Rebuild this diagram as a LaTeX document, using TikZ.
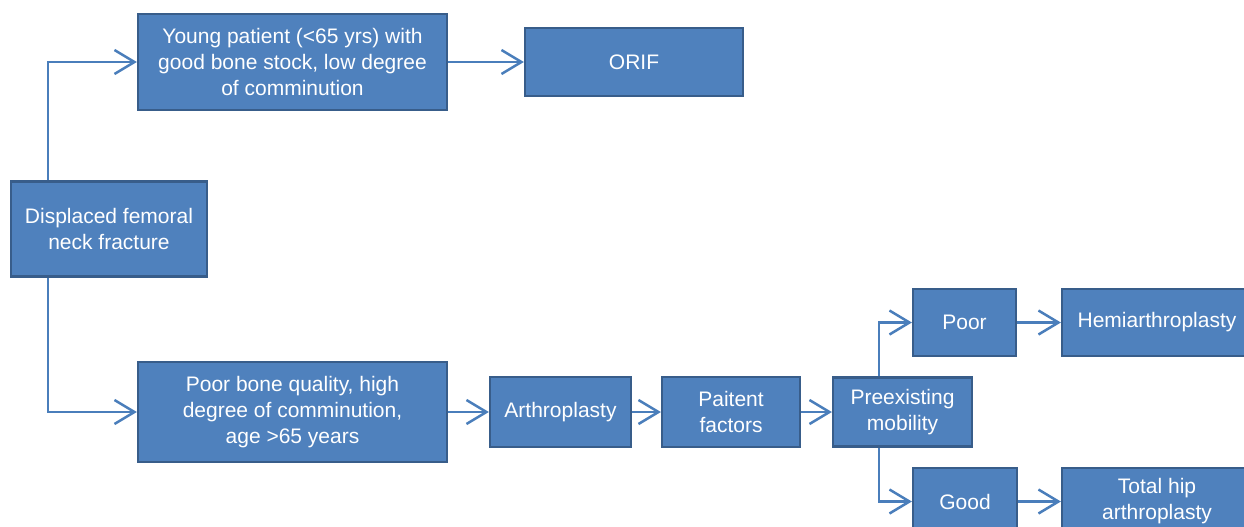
\documentclass[tikz,border=0pt]{standalone}
\usepackage{fontspec}
\setmainfont{Liberation Sans}
\usetikzlibrary{arrows.meta}
\definecolor{boxfill}{HTML}{4F81BD}
\definecolor{boxline}{HTML}{385D8A}
\definecolor{arrowcol}{HTML}{4A7EBB}
\begin{document}
\begin{tikzpicture}[x=1pt,y=-1pt,
 box/.style={draw=boxline, fill=boxfill, line width=2.2pt, text=white, align=center, inner sep=0pt, font=\fontsize{21}{26}\selectfont},
 conn/.style={draw=arrowcol, line width=2.5pt, -{Straight Barb[length=20pt,width=24pt]}}]
\clip (0,0) rectangle (1244,527);
\node[box, minimum width=196pt, minimum height=95pt] (disp) at (109,229) {Displaced femoral\\neck fracture};
\node[box, minimum width=309pt, minimum height=96pt] (young) at (292.5,62) {Young patient (<65 yrs) with\\good bone stock, low degree\\of comminution};
\node[box, minimum width=218pt, minimum height=68pt] (orif) at (634,62) {ORIF};
\node[box, minimum width=309pt, minimum height=100pt] (poorbone) at (292.5,412) {Poor bone quality, high\\degree of comminution,\\age >65 years};
\node[box, minimum width=141pt, minimum height=70pt] (arthro) at (560.5,412) {Arthroplasty};
\node[box, minimum width=138pt, minimum height=70pt] (pat) at (731,412) {Paitent\\factors};
\node[box, minimum width=139pt, minimum height=69pt] (pre) at (902.5,412) {Preexisting\\mobility};
\node[box, minimum width=103pt, minimum height=67pt] (poor) at (964.5,322.5) {Poor};
\node[box, minimum width=190pt, minimum height=67pt] (hemi) at (1157,322.5) {Hemiarthroplasty};
\node[box, minimum width=104pt, minimum height=67pt] (good) at (965,501.5) {Good};
\node[box, minimum width=190pt, minimum height=67pt] (total) at (1157,501.5) {Total hip\\arthroplasty};
\draw[conn] ([xshift=38pt]disp.north west) |- (young.west);
\draw[conn] ([xshift=38pt]disp.south west) |- (poorbone.west);
\draw[conn] (young.east) -- (young.east -| orif.west);
\draw[conn] (poorbone.east) -- (arthro.west);
\draw[conn] (arthro.east) -- (pat.west);
\draw[conn] (pat.east) -- (pre.west);
\draw[conn] ([xshift=47pt]pre.north west) |- (poor.west);
\draw[conn] ([xshift=47pt]pre.south west) |- (good.west);
\draw[conn] (poor.east) -- (hemi.west);
\draw[conn] (good.east) -- (good.east -| total.west);
\end{tikzpicture}
\end{document}
